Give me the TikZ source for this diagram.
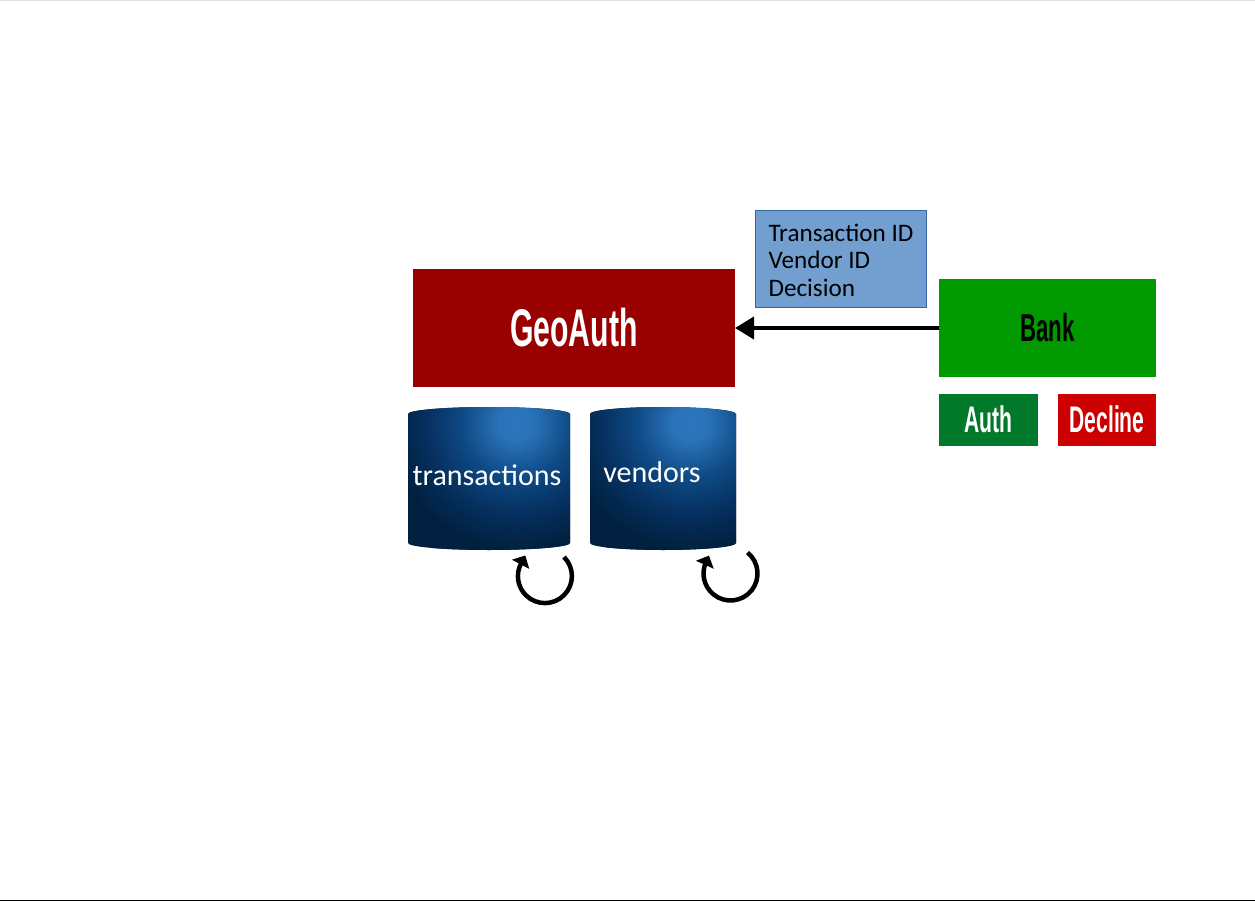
\documentclass[tikz,border=0pt]{standalone}
\usepackage{fontspec}
\usepackage{graphicx}
\setmainfont{Carlito}
\newfontfamily\headfont{Liberation Sans}
\usetikzlibrary{arrows.meta}
\definecolor{dbhigh}{HTML}{2C76BD}
\definecolor{dbmid}{HTML}{0F4A85}
\definecolor{dbdeep}{HTML}{05305F}
\definecolor{dbdark}{HTML}{01203F}
\definecolor{geored}{HTML}{990000}
\definecolor{bankgreen}{HTML}{009900}
\definecolor{authgreen}{HTML}{00792A}
\definecolor{declinered}{HTML}{CC0000}
\definecolor{msgblue}{HTML}{729FCF}
\definecolor{msgedge}{HTML}{3465A4}
\pgfdeclareradialshading{dbshade}{\pgfpointorigin}{%
  color(0bp)=(dbhigh); color(3bp)=(dbhigh!92!dbmid); color(9bp)=(dbmid); color(15bp)=(dbdeep); color(21bp)=(dbdark); color(50bp)=(dbdark)}
\newcommand{\headtext}[2]{\scalebox{.57}[1]{\fontsize{#1}{#1}\headfont\bfseries #2}}
% body of a store, hung on the corners of its node
\newcommand{\dbbody}[2]{\path[fill=dbdark, path picture={
    \path[shading=dbshade] ([xshift=27pt,yshift=55pt]#1.center) circle[radius=150pt];}]
  ([yshift=-7pt]#1.north west) arc[start angle=180,end angle=0,x radius=#2,y radius=7pt]
  -- ([yshift=7pt]#1.south east) arc[start angle=0,end angle=-180,x radius=#2,y radius=7pt] -- cycle;}
\tikzset{
  box/.style={rectangle, inner sep=0pt, outer sep=0pt},
  dbstore/.style={box, minimum height=143pt},
  dblabel/.style={text=white, font=\fontsize{30}{30}\selectfont, inner sep=0pt},
  looparrow/.style={line width=4.5pt, -{Triangle[length=10pt,width=19pt]}}
}
\begin{document}
\begin{tikzpicture}[x=1pt,y=-1pt]
  \useasboundingbox (0,0) rectangle (1255,901);
  \draw[black!12,line width=1pt] (0,.5) -- (1255,.5);
  \draw[black,line width=1pt] (0,900.5) -- (1255,900.5);

  \begin{scope}[every node/.style={box}]
    \node[fill=geored, minimum width=322pt, minimum height=118pt] (geoauth) at (574,328)
      {\color{white}\headtext{53}{GeoAuth}};
    \node[fill=bankgreen, minimum width=217pt, minimum height=98pt] (bank) at (1047.5,328)
      {\headtext{39}{Bank}};
    \node[fill=authgreen, minimum width=99pt, minimum height=52pt] (auth) at (988.5,420)
      {\color{white}\raisebox{1.5pt}{\headtext{37}{Auth}}};
    \node[fill=declinered, minimum width=98pt, minimum height=52pt] (decline) at (1107,420)
      {\color{white}\raisebox{1.5pt}{\headtext{37}{Decline}}};
    \node[fill=msgblue, draw=msgedge, line width=.8pt, minimum width=171pt, minimum height=97pt,
      align=left, font=\fontsize{25.2}{27.6}\selectfont] (message) at (841,259)
      {\rule{0pt}{20pt}Transaction ID\\Vendor ID\\Decision};
  \end{scope}

  \node[dbstore, minimum width=162pt] (transactions) at (489,478.5) {};
  \node[dbstore, minimum width=146pt] (vendors) at (663,478.5) {};
  \dbbody{transactions}{81pt}
  \dbbody{vendors}{73pt}
  \node[dblabel] (transactionstext) at (487,475) {transactions};
  \node[dblabel] (vendorstext) at (652,472) {vendors};

  \path (bank.west) edge[line width=4pt, -{Triangle[length=19pt,width=22pt]}] (geoauth.east);

  \coordinate (txloop) at (564,557);
  \coordinate (vnloop) at (747.5,552.5);
  \draw[looparrow] (txloop) arc[start angle=45,end angle=-208,radius=27pt] -- ++(62:9pt);
  \draw[looparrow] (vnloop) arc[start angle=51,end angle=-203,radius=27pt] -- ++(66:8pt);
\end{tikzpicture}
\end{document}
